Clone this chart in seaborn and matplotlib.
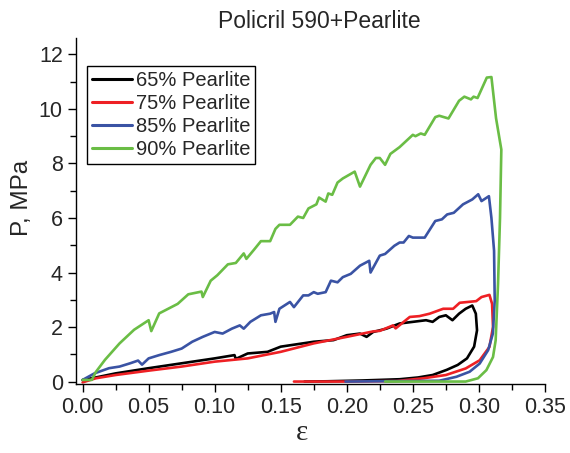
import pandas as pd
import numpy as np
import matplotlib
matplotlib.use('Agg')
import matplotlib.pyplot as plt
import seaborn as sns
from matplotlib.ticker import MultipleLocator

# loading branch followed by unloading branch
strain_65 = [0.0, 0.01, 0.025, 0.05, 0.075, 0.1, 0.115, 0.116, 0.125, 0.14, 0.15, 0.175, 0.19,
             0.2, 0.21, 0.215, 0.22, 0.23, 0.24, 0.25, 0.26, 0.265, 0.27, 0.275, 0.28, 0.285,
             0.29, 0.295, 0.2977, 0.2986, 0.2964, 0.291, 0.284, 0.2757, 0.265, 0.254, 0.24,
             0.212, 0.185, 0.168]
p_65 = [0.06, 0.15, 0.3, 0.49, 0.67, 0.85, 0.97, 0.83, 1.03, 1.09, 1.28, 1.46, 1.52,
        1.7, 1.76, 1.64, 1.82, 1.94, 2.13, 2.19, 2.25, 2.19, 2.37, 2.43, 2.25, 2.49,
        2.67, 2.79, 2.49, 1.88, 1.28, 0.85, 0.61, 0.43, 0.24, 0.15, 0.085,
        0.04, 0.01, 0.0]

strain_75 = [0.0, 0.01, 0.025, 0.05, 0.075, 0.1, 0.125, 0.15, 0.175, 0.2, 0.22, 0.225, 0.235,
             0.237, 0.2477, 0.255, 0.2628, 0.273, 0.2805, 0.2855, 0.298, 0.302, 0.308,
             0.31, 0.3107, 0.308, 0.3006, 0.29, 0.275, 0.258, 0.238, 0.2, 0.16]
p_75 = [-0.03, 0.12, 0.24, 0.4, 0.55, 0.73, 0.85, 1.09, 1.4, 1.64, 1.84, 1.86, 2.06,
        1.95, 2.37, 2.4, 2.49, 2.67, 2.67, 2.89, 2.95, 3.1, 3.18,
        2.85, 2.0, 1.27, 0.78, 0.48, 0.24, 0.12, 0.02, 0.0, 0.0]

strain_85 = [0.0, 0.009, 0.02, 0.028, 0.036, 0.042, 0.045, 0.05, 0.058, 0.067, 0.075, 0.083,
             0.091, 0.1, 0.106, 0.113, 0.119, 0.122, 0.127, 0.135, 0.142, 0.145, 0.146, 0.149,
             0.157, 0.16, 0.167, 0.171, 0.175, 0.178, 0.184, 0.188, 0.193, 0.197, 0.203, 0.21,
             0.217, 0.218, 0.225, 0.229, 0.236, 0.24, 0.243, 0.247, 0.25, 0.255, 0.259, 0.267,
             0.272, 0.276, 0.281, 0.288, 0.295, 0.2995, 0.302, 0.3076,
             0.3095, 0.3115, 0.312, 0.3106, 0.307, 0.3006, 0.293, 0.283, 0.27, 0.199]
p_85 = [0.06, 0.3, 0.49, 0.55, 0.67, 0.77, 0.62, 0.85, 0.97, 1.09, 1.21, 1.46,
        1.64, 1.82, 1.76, 1.94, 2.06, 1.94, 2.19, 2.43, 2.49, 2.55, 2.19, 2.67,
        2.92, 2.73, 3.16, 3.16, 3.28, 3.22, 3.28, 3.7, 3.64, 3.83, 3.95, 4.25,
        4.43, 4.0, 4.62, 4.68, 4.98, 5.1, 5.1, 5.34, 5.28, 5.28, 5.28, 5.89,
        5.95, 6.13, 6.19, 6.5, 6.68, 6.87, 6.62, 6.8,
        6.0, 4.8, 2.97, 1.76, 1.15, 0.66, 0.36, 0.175, 0.03, 0.0]

strain_90 = [0.0, 0.007, 0.01, 0.017, 0.028, 0.039, 0.05, 0.052, 0.058, 0.072, 0.08, 0.09,
             0.091, 0.097, 0.102, 0.11, 0.116, 0.122, 0.124, 0.13, 0.135, 0.142, 0.146, 0.149,
             0.157, 0.163, 0.167, 0.171, 0.177, 0.179, 0.184, 0.186, 0.189, 0.193, 0.197,
             0.206, 0.21, 0.218, 0.222, 0.225, 0.229, 0.233, 0.24, 0.25, 0.252, 0.256, 0.259,
             0.267, 0.27, 0.277, 0.285, 0.289, 0.294, 0.296, 0.299, 0.306, 0.3095,
             0.313, 0.317, 0.316, 0.3145, 0.3127, 0.3107, 0.3057, 0.2993, 0.29, 0.229]
p_90 = [0.06, 0.06, 0.35, 0.8, 1.4, 1.9, 2.25, 1.85, 2.5, 2.85, 3.2, 3.3,
        3.1, 3.7, 3.9, 4.3, 4.35, 4.7, 4.5, 4.85, 5.15, 5.15, 5.6, 5.75,
        5.75, 6.05, 6.0, 6.35, 6.5, 6.75, 6.6, 6.9, 6.85, 7.3, 7.45,
        7.7, 7.15, 7.95, 8.2, 8.2, 7.95, 8.35, 8.6, 9.05, 9.0, 9.1, 9.05,
        9.7, 9.75, 9.65, 10.3, 10.45, 10.35, 10.45, 10.4, 11.15, 11.17,
        9.66, 8.51, 6.0, 3.58, 1.51, 0.9, 0.42, 0.12, 0.0, 0.0]

labels = ['65% Pearlite', '75% Pearlite', '85% Pearlite', '90% Pearlite']
colors = ['#000000', '#ee2024', '#3a53a4', '#6abd45']

frames = []
for lab, xs, ys in zip(labels, [strain_65, strain_75, strain_85, strain_90],
                       [p_65, p_75, p_85, p_90]):
    frames.append(pd.DataFrame({'strain': xs, 'P': ys, 'series': lab}))
df = pd.concat(frames, ignore_index=True)

sns.set_style('ticks')
plt.rcParams['font.family'] = ['Liberation Sans', 'DejaVu Sans']

fig = plt.figure(figsize=(5.7, 4.53), dpi=100)
ax = fig.add_axes([0.1333, 0.1523, 0.8227, 0.7637])

sns.lineplot(data=df, x='strain', y='P', hue='series', hue_order=labels,
             palette=colors, sort=False, estimator=None, linewidth=1.9, ax=ax)

ax.set_xlim(-0.005, 0.35)
ax.set_ylim(-0.09, 12.6)
ax.xaxis.set_major_locator(MultipleLocator(0.05))
ax.xaxis.set_minor_locator(MultipleLocator(0.025))
ax.yaxis.set_major_locator(MultipleLocator(2))
ax.yaxis.set_minor_locator(MultipleLocator(1))
ax.xaxis.set_major_formatter(plt.FuncFormatter(lambda v, p: f'{v:.2f}'))
ax.tick_params(which='major', direction='out', length=6, width=1, labelsize=15.5, color='black')
ax.tick_params(which='minor', direction='out', length=4, width=1, color='black')
sns.despine(ax=ax)
for s in ['left', 'bottom']:
    ax.spines[s].set_linewidth(1)
    ax.spines[s].set_color('black')

ax.set_ylabel('P, MPa', fontsize=17.5)
ax.yaxis.set_label_coords(-0.092, 0.5376)
ax.set_xlabel('ε', fontsize=21, family=['Liberation Serif', 'DejaVu Serif'])
ax.xaxis.set_label_coords(0.481, -0.105)

fig.text(0.5605, 0.952, 'Policril 590+Pearlite', fontsize=16.5, ha='center', va='center')

leg = ax.legend(loc='upper left', bbox_to_anchor=(0.0226, 0.92), borderaxespad=0,
                fontsize=14.5, frameon=True, fancybox=False, framealpha=1,
                edgecolor='black', labelspacing=0.2, borderpad=0.25,
                handlelength=2.0, handletextpad=0.2)
leg.get_frame().set_linewidth(1)
for line in leg.get_lines():
    line.set_linewidth(2.2)

fig.savefig('out.png', dpi=100)
